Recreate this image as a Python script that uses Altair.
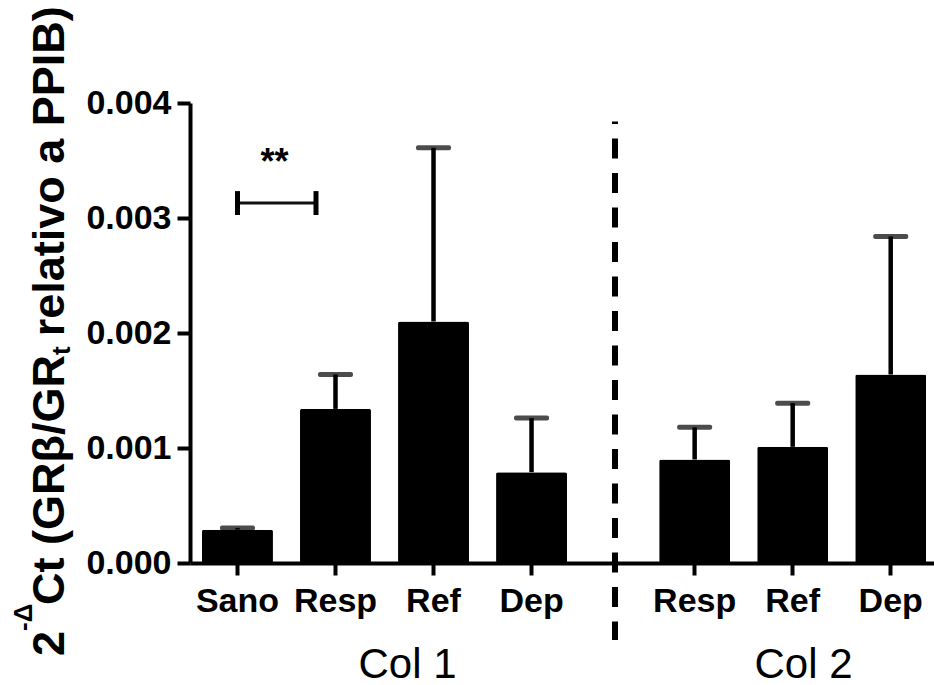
import altair as alt
import pandas as pd

# ---------------- data ----------------
col1_groups = ["Sano", "Resp", "Ref", "Dep"]
col1_means = [0.00029, 0.00134, 0.00210, 0.00079]
col1_upper = [0.000305, 0.00164, 0.00361, 0.00126]

col2_groups = ["Resp", "Ref", "Dep"]
col2_means = [0.00090, 0.00101, 0.00164]
col2_upper = [0.00118, 0.00139, 0.00284]

y_ticks = [0.0, 0.001, 0.002, 0.003, 0.004]
group_titles = ["Col 1", "Col 2"]

sig_pair = ["Sano", "Resp"]
sig_label = ["**"]
sig_level = [0.00313]

title_parts = [
    ("2", "main"),
    ("-Δ", "sup"),
    ("Ct (GRβ/GR", "main"),
    ("t", "sub"),
    ("relativo a PPIB)", "main"),
]

# ---------------- layout / style ----------------
FONT = "Liberation Sans"
W, H = 744, 460
PAD = {"left": 190, "top": 103, "right": 0, "bottom": 122}
SPLIT = 425  # pixel where the second block begins

df1 = pd.DataFrame({"g": col1_groups, "m": col1_means, "u": col1_upper})
df2 = pd.DataFrame({"g": col2_groups, "m": col2_means, "u": col2_upper})
df_sig = pd.DataFrame({"a": [sig_pair[0]], "b": [sig_pair[1]], "y": sig_level, "lab": sig_label})
one = pd.DataFrame({"k": [0]})

yscale = alt.Scale(domain=[0, 0.004], nice=False, zero=True)
yaxis = alt.Axis(values=y_ticks, format=".3f", title=None, grid=False)


def Y(field):
    return alt.Y(field, type="quantitative", scale=yscale, axis=yaxis, title=None)


xscaleA = alt.Scale(domain=col1_groups, range=[0, SPLIT], paddingInner=0.276,
                    paddingOuter=0.306, align=0.2)
xaxisA = alt.Axis(orient="bottom", title=group_titles[0], titleX=217, titleY=114,
                  titleBaseline="alphabetic", titleAlign="center", grid=False)
xscaleB = alt.Scale(domain=col2_groups, range=[SPLIT, W], paddingInner=0.276,
                    paddingOuter=0.265, align=0.85)
xaxisB = alt.Axis(orient="bottom", title=group_titles[1], titleX=613, titleY=114,
                  titleBaseline="alphabetic", titleAlign="center", grid=False)


def XA(field):
    return alt.X(field, type="nominal", scale=xscaleA, axis=xaxisA, sort=None, title=group_titles[0])


def XB(field):
    return alt.X(field, type="nominal", scale=xscaleB, axis=xaxisB, sort=None, title=group_titles[1])


def block(df, X):
    bars = alt.Chart(df).mark_bar(color="black", cornerRadius=2).encode(x=X("g"), y=Y("m"))
    err = alt.Chart(df).mark_rule(color="black", strokeWidth=4.5).encode(
        x=X("g"), y=Y("m"), y2=alt.Y2("u"))
    caps = alt.Chart(df).mark_tick(color="black", size=35, thickness=5, cornerRadius=2).encode(
        x=X("g"), y=Y("u"))
    return [bars, err, caps]


# significance bracket
sig_h = alt.Chart(df_sig).mark_rule(color="#111", strokeWidth=3, x2Offset=-19.5).encode(
    x=XA("a"), x2=alt.X2("b"), y=Y("y"))
sig_l = alt.Chart(df_sig).transform_calculate(
    lo="datum.y - 0.000104", hi="datum.y + 0.000104").mark_rule(
    color="black", strokeWidth=5).encode(x=XA("a"), y=Y("lo:Q"), y2=alt.Y2("hi:Q"))
sig_r = alt.Chart(df_sig).transform_calculate(
    lo="datum.y - 0.000104", hi="datum.y + 0.000104").mark_rule(
    color="black", strokeWidth=5, xOffset=-19.5).encode(x=XA("b"), y=Y("lo:Q"), y2=alt.Y2("hi:Q"))
sig_t = alt.Chart(df_sig).transform_calculate(ys="datum.y + 0.00025").mark_text(
    font=FONT, fontWeight="bold", fontSize=36, color="black", dx=37, align="center",
    baseline="alphabetic").encode(x=XA("a"), y=Y("ys:Q"), text="lab:N")

groupA = alt.layer(*block(df1, XA), sig_h, sig_l, sig_r, sig_t)

sep = alt.Chart(one).mark_rule(color="black", strokeWidth=6, strokeDash=[20, 14.5],
                               strokeDashOffset=17.5).encode(
    x=alt.value(SPLIT),
    y=alt.YDatum(0.00384, type="quantitative", scale=yscale, axis=yaxis, title=None),
    y2=alt.Y2Datum(-0.00067))

groupB = alt.layer(*block(df2, XB), sep)

# rotated y title with super/subscripts, built from segments
EM = {"2": .556, "-": .333, "Δ": .667, "C": .722, "t": .333, " ": .278,
      "(": .333, "G": .778, "R": .722, "β": .611, "/": .278, "r": .389, "e": .556,
      "l": .278, "a": .556, "i": .278, "v": .556, "o": .611, "P": .667, "I": .278,
      "B": .722, ")": .333}
SIZES = {"main": 45, "sup": 26, "sub": 26}
BASE_X = {"main": 64 - PAD["left"], "sup": 32 - PAD["left"], "sub": 70 - PAD["left"]}
GAP_AFTER = {3: 10}  # word gap after the subscript
ypos = 656 - PAD["top"]
title_layers = []
for i, (txt, kind) in enumerate(title_parts):
    size = SIZES[kind]
    title_layers.append(
        alt.Chart(one).mark_text(angle=270, align="left", baseline="alphabetic", font=FONT,
                                 fontWeight="bold", fontSize=size, color="black").encode(
            x=alt.value(BASE_X[kind]), y=alt.value(ypos), text=alt.value(txt)))
    ypos -= sum(EM.get(c, 0.6) for c in txt) * size + GAP_AFTER.get(i, 0)

chart = alt.layer(groupA, groupB, *title_layers).resolve_scale(x="independent").properties(
    width=W, height=H, autosize=alt.AutoSizeParams(type="none"), padding=PAD,
    background="white"
).configure_view(stroke=None).configure_axis(
    labelFont=FONT, labelFontWeight="bold", labelFontSize=34, labelColor="black",
    domainColor="black", tickColor="black", domainWidth=4, tickWidth=4,
    titleFont=FONT, titleFontWeight="normal", titleFontSize=42, titleColor="black",
    grid=False
).configure_axisX(tickSize=12, labelPadding=9, labelAngle=0).configure_axisY(
    tickSize=13, labelPadding=6)

chart.save("out.html", embed_options={"renderer": "svg", "actions": False})
